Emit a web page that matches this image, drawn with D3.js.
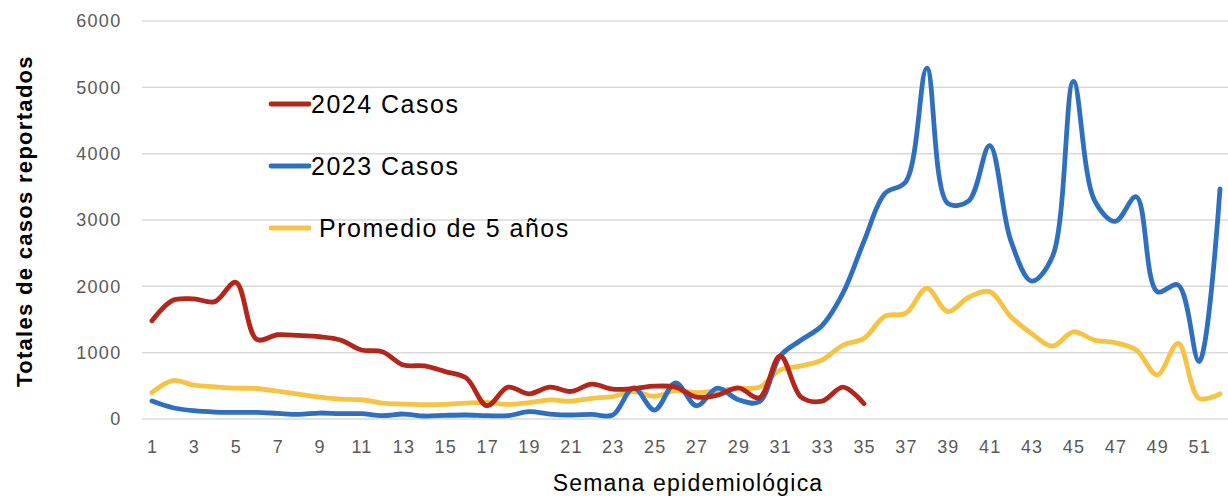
<!DOCTYPE html>
<html>
<head>
<meta charset="utf-8">
<script src="https://cdn.jsdelivr.net/npm/d3@7"></script>
<style>
  body { margin: 0; background: #fff; }
  svg text { font-family: "Liberation Sans", Arial, Helvetica, sans-serif; }
</style>
</head>
<body>
<div id="chart"></div>
<script>
// semanas epidemiologicas
const weeks = d3.range(1, 53);
const xTickWeeks = d3.range(1, 52, 2);
const yTicks = [0, 1000, 2000, 3000, 4000, 5000, 6000];

// 2024 casos (semanas 1-35)
const cases2024 = [1480, 1790, 1810, 1770, 2060, 1200, 1270, 1260, 1240, 1190, 1040, 1015, 815, 800, 715, 620,
  200, 480, 380, 480, 415, 525, 450, 460, 495, 480, 330, 360, 470, 320, 950, 330, 270, 480, 230];

// 2023 casos
const cases2023 = [270, 170, 125, 105, 100, 100, 85, 70, 90, 80, 80, 50, 75, 45, 55, 60,
  50, 50, 110, 75, 60, 70, 60, 470, 135, 545, 200, 465, 290, 260, 950, 1190, 1410, 1900, 2680, 3400,
  3580, 5290, 3250, 3290, 4120, 2700, 2080, 2450, 5090, 3300, 2980, 3350, 1920, 2020, 865, 3470];

// promedio de 5 anos
const avg5 = [400, 580, 510, 485, 465, 460, 420, 375, 330, 300, 290, 240, 225, 215, 220, 240,
  250, 220, 246, 287, 270, 312, 336, 412, 340, 427, 397, 427, 463, 478, 740, 800, 890, 1115, 1215, 1550,
  1595, 1970, 1620, 1835, 1920, 1545, 1290, 1100, 1315, 1190, 1150, 1040, 665, 1140, 310, 380];

const seriesNames = ["2024 Casos", "2023 Casos", "Promedio de 5 años"];
const seriesColors = ["#b3261c", "#2f6fbf", "#f7c344"];

const width = 1228, height = 496;

const svg = d3.select("#chart").append("svg")
  .attr("width", width)
  .attr("height", height);

const x = d3.scaleLinear().domain([1, 52]).range([152, 1220]);
const y = d3.scaleLinear().domain([0, 6000]).range([419, 21]);

// grid lines
svg.append("g")
  .selectAll("line")
  .data(yTicks)
  .enter().append("line")
  .attr("x1", 142)
  .attr("x2", width)
  .attr("y1", d => y(d))
  .attr("y2", d => y(d))
  .attr("stroke", "#d9d9d9")
  .attr("stroke-width", 1.5);

// y tick labels
svg.append("g")
  .selectAll("text")
  .data(yTicks)
  .enter().append("text")
  .attr("x", 121.5)
  .attr("y", d => y(d))
  .attr("dy", "0.35em")
  .attr("text-anchor", "end")
  .attr("font-size", 18)
  .attr("letter-spacing", 1.3)
  .attr("fill", "#595959")
  .text(d => d);

// x tick labels
svg.append("g")
  .selectAll("text")
  .data(xTickWeeks)
  .enter().append("text")
  .attr("x", d => x(d) + 0.6)
  .attr("y", 447)
  .attr("dy", "0.35em")
  .attr("text-anchor", "middle")
  .attr("font-size", 18)
  .attr("letter-spacing", 1.2)
  .attr("fill", "#595959")
  .text(d => d);

// axis titles
svg.append("text")
  .attr("x", 688)
  .attr("y", 483)
  .attr("dy", "0.35em")
  .attr("text-anchor", "middle")
  .attr("font-size", 23)
  .attr("letter-spacing", 1.2)
  .attr("fill", "#000")
  .text("Semana epidemiológica");

svg.append("text")
  .attr("transform", "translate(24,221) rotate(-90)")
  .attr("dy", "0.35em")
  .attr("text-anchor", "middle")
  .attr("font-size", 22)
  .attr("font-weight", "bold")
  .attr("letter-spacing", 1.3)
  .attr("fill", "#000")
  .text("Totales de casos reportados");

const line = d3.line()
  .x(d => x(d.w))
  .y(d => y(d.v))
  .curve(d3.curveCatmullRom.alpha(0.5));

const allSeries = [cases2024, cases2023, avg5].map((vals, i) => ({
  name: seriesNames[i],
  color: seriesColors[i],
  points: vals.map((v, j) => ({ w: weeks[j], v: v }))
}));

// draw avg first, then 2023, then 2024 on top
svg.append("g")
  .selectAll("path")
  .data(allSeries.slice().reverse())
  .enter().append("path")
  .attr("d", d => line(d.points))
  .attr("fill", "none")
  .attr("stroke", d => d.color)
  .attr("stroke-width", 4.8)
  .attr("stroke-linecap", "round")
  .attr("stroke-linejoin", "round");

// legend
const legend = svg.append("g")
  .selectAll("g")
  .data(allSeries)
  .enter().append("g")
  .attr("transform", (d, i) => `translate(271,${104 + i * 62})`);

legend.append("line")
  .attr("x1", 0)
  .attr("x2", 38)
  .attr("stroke", d => d.color)
  .attr("stroke-width", 4.8)
  .attr("stroke-linecap", "round");

legend.append("text")
  .attr("x", (d, i) => i === 2 ? 48 : 40)
  .attr("dy", "0.36em")
  .attr("font-size", 25)
  .attr("letter-spacing", 1.5)
  .attr("fill", "#000")
  .text(d => d.name);
</script>
</body>
</html>
